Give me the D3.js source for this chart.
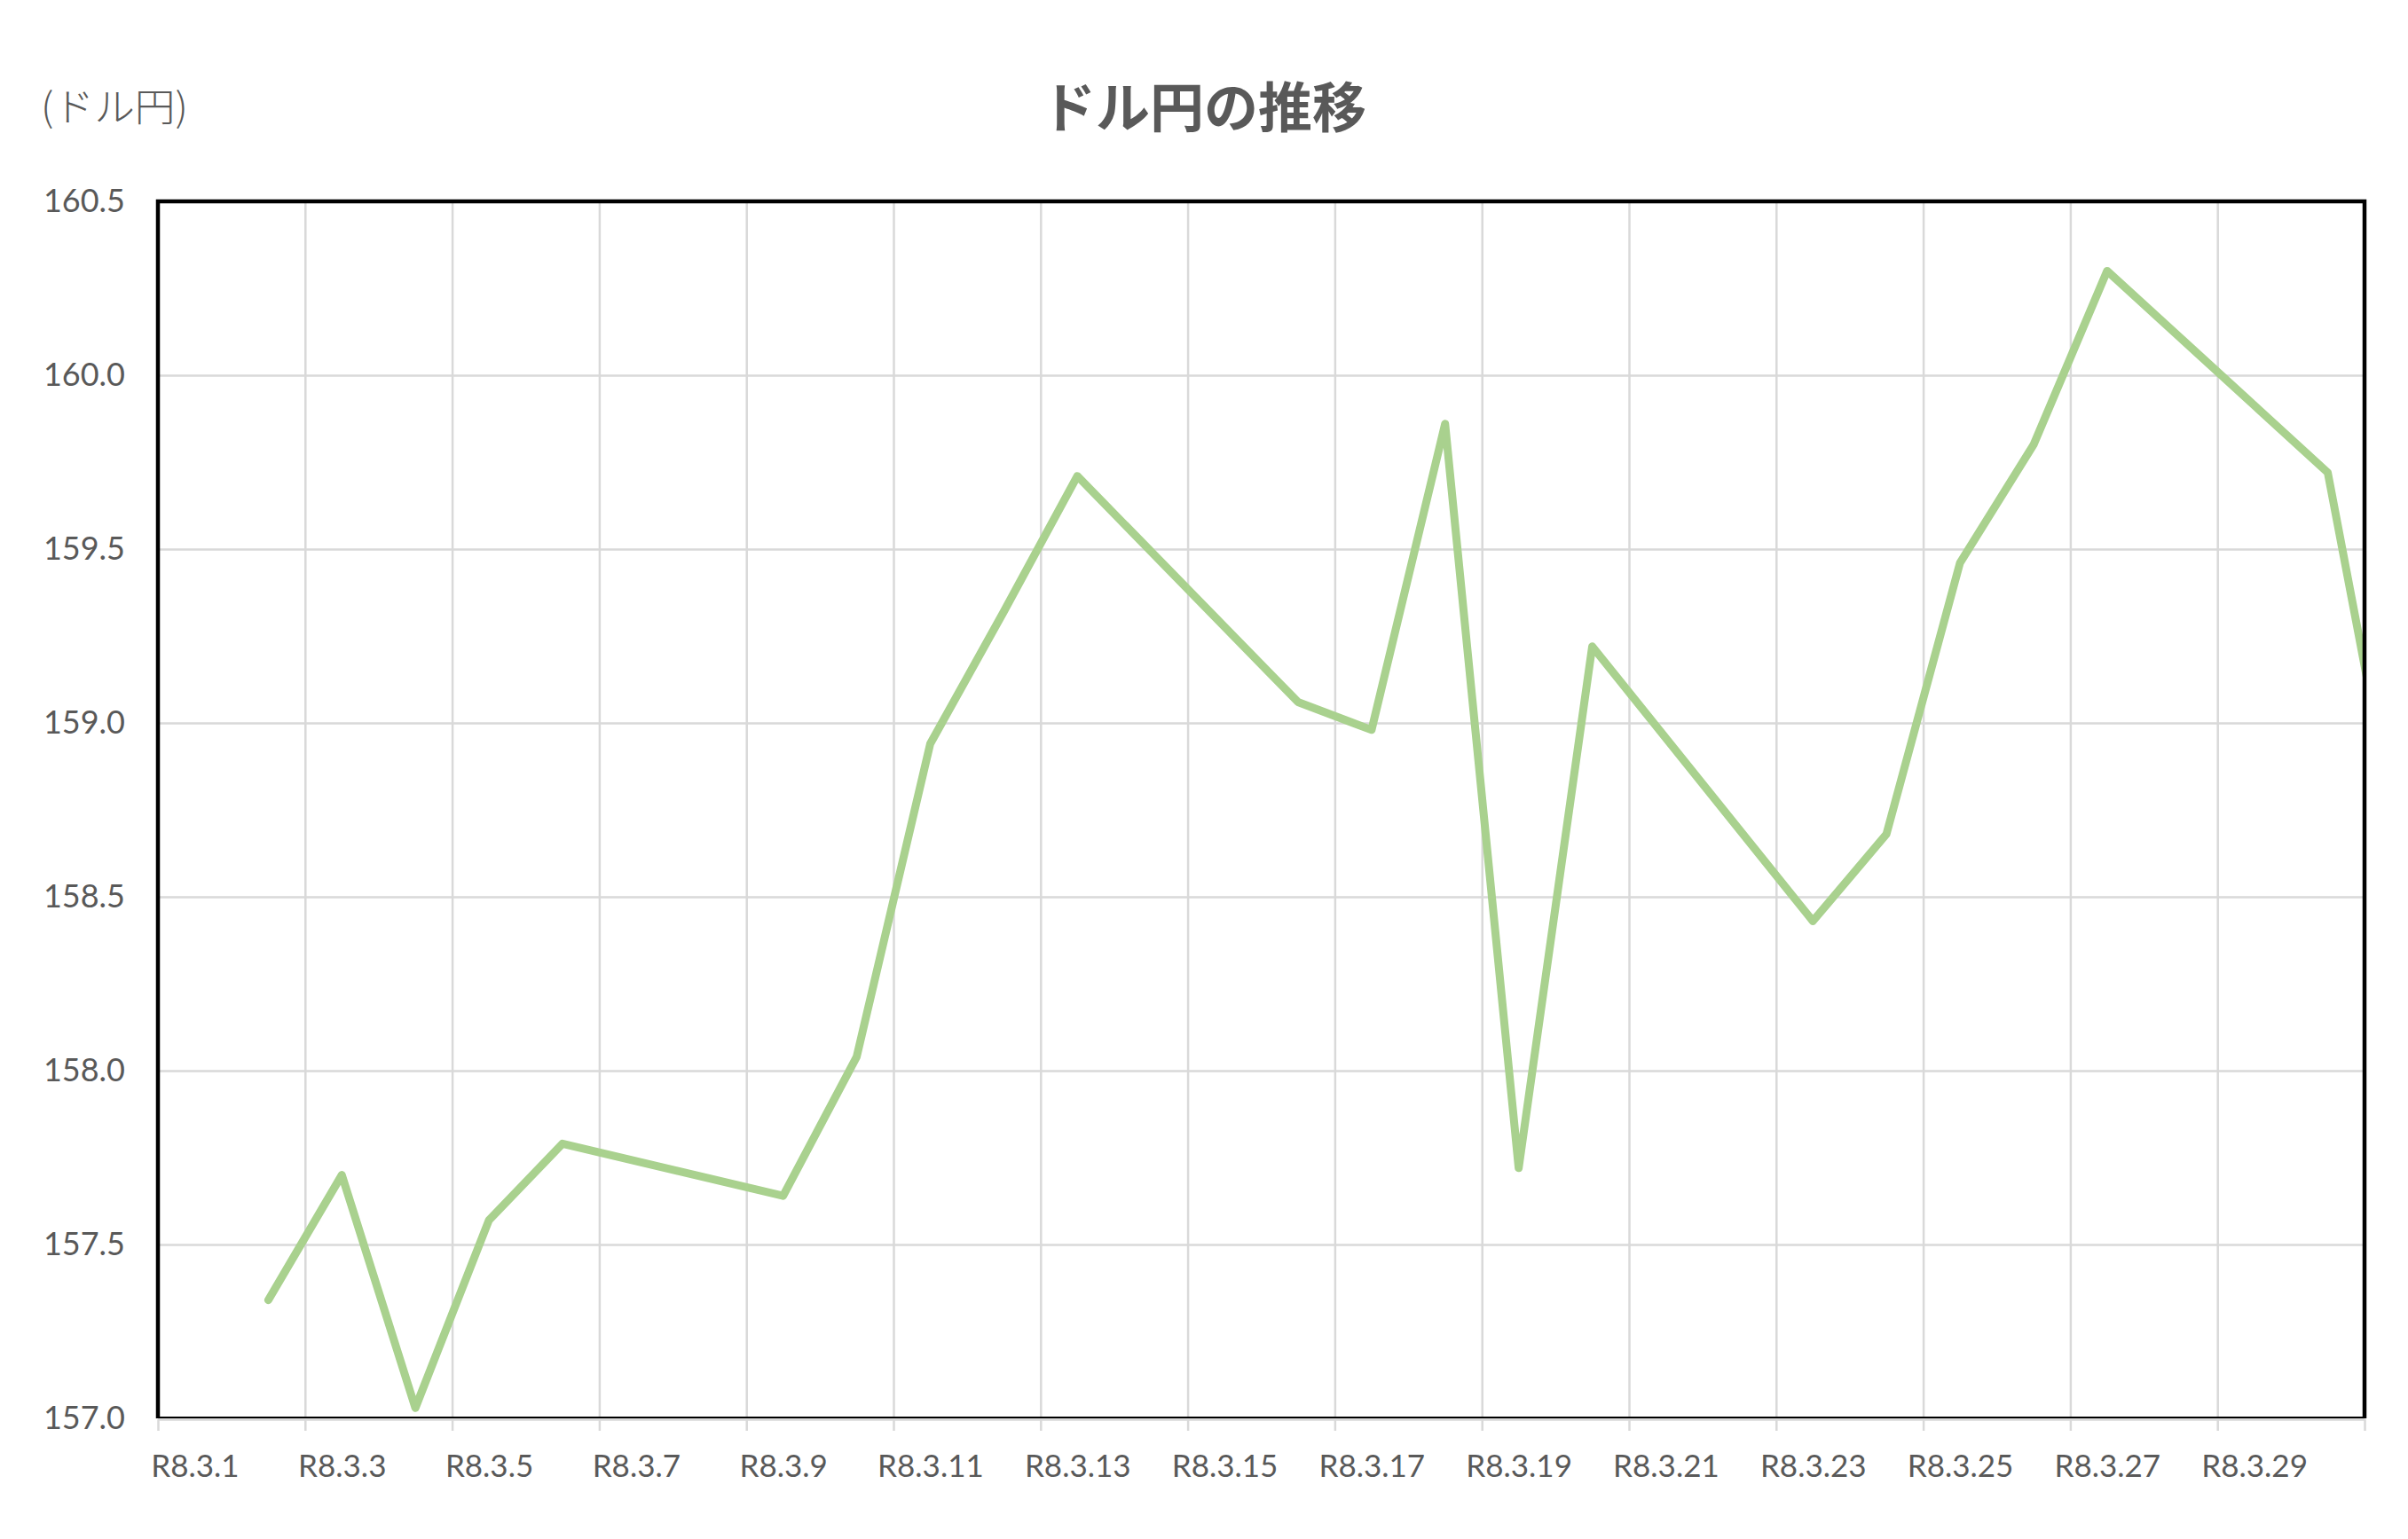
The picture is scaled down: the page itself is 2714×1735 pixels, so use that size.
<!DOCTYPE html>
<html>
<head>
<meta charset="utf-8">
<script src="https://cdn.jsdelivr.net/npm/d3@7"></script>
<style>
  html, body { margin: 0; padding: 0; background: #ffffff; }
  svg { display: block; }
</style>
</head>
<body>
<svg id="chart"></svg>
<script>
// ==============================
// DATA
// ==============================

// trading days in March, R8 (2026)
const days = [2, 3, 4, 5, 6, 9, 10, 11, 12, 13, 16, 17, 18, 19, 20, 23, 24, 25, 26, 27, 30, 31];
const rates = [157.34, 157.70, 157.03, 157.57, 157.79, 157.64, 158.04, 158.94, 159.32, 159.71,
               159.06, 158.98, 159.86, 157.72, 159.22, 158.43, 158.68, 159.46, 159.80, 160.30,
               159.72, 158.61];

const yTicks = [157.0, 157.5, 158.0, 158.5, 159.0, 159.5, 160.0, 160.5];
const xLabelDays = [1, 3, 5, 7, 9, 11, 13, 15, 17, 19, 21, 23, 25, 27, 29];
const xLabels = ["R8.3.1", "R8.3.3", "R8.3.5", "R8.3.7", "R8.3.9", "R8.3.11", "R8.3.13", "R8.3.15",
                 "R8.3.17", "R8.3.19", "R8.3.21", "R8.3.23", "R8.3.25", "R8.3.27", "R8.3.29"];

const titleText = "ドル円の推移";
const unitText = "(ドル円)";

// ==============================
// LAYOUT
// ==============================

const width = 2714;
const height = 1735;
const plot = { left: 178, right: 2665, top: 227, bottom: 1599 };

const textColor = "#595959";
const gridColor = "#d9d9d9";
const lineColor = "#a9d18e";
const numFont = "Lato, 'Noto Sans CJK JP', sans-serif";
const jpFont = "'Noto Sans CJK JP', sans-serif";

const svg = d3.select("#chart")
  .attr("width", width)
  .attr("height", height);

svg.append("rect")
  .attr("width", width)
  .attr("height", height)
  .attr("fill", "#ffffff");

const dayDate = d => new Date(2026, 2, d);
const midDay = d => new Date(2026, 2, d, 12);

// date axis, points sit between tick marks
const x = d3.scaleTime()
  .domain([dayDate(1), dayDate(31)])
  .range([plot.left, plot.right]);

const y = d3.scaleLinear()
  .domain([157.0, 160.5])
  .range([plot.bottom, plot.top]);

const tickDates = d3.timeDay.every(2).range(dayDate(1), new Date(2026, 2, 31, 1));

// ==============================
// GRID
// ==============================

svg.append("g")
  .attr("transform", `translate(0,${plot.bottom})`)
  .call(d3.axisBottom(x)
    .tickValues(tickDates)
    .tickSize(-(plot.bottom - plot.top))
    .tickFormat(""))
  .call(g => g.select(".domain").remove())
  .call(g => g.selectAll("line")
    .attr("stroke", gridColor)
    .attr("stroke-width", 2.5));

svg.append("g")
  .attr("transform", `translate(${plot.left},0)`)
  .call(d3.axisLeft(y)
    .tickValues(yTicks)
    .tickSize(-(plot.right - plot.left))
    .tickFormat(""))
  .call(g => g.select(".domain").remove())
  .call(g => g.selectAll("line")
    .attr("stroke", gridColor)
    .attr("stroke-width", 2.5));

// ==============================
// LINE
// ==============================

svg.append("clipPath")
  .attr("id", "plot-clip")
  .append("rect")
  .attr("x", plot.left)
  .attr("y", plot.top - 10)
  .attr("width", plot.right - plot.left)
  .attr("height", plot.bottom - plot.top + 10);

const series = days.map((d, i) => ({ date: midDay(d), value: rates[i] }));

const line = d3.line()
  .x(d => x(d.date))
  .y(d => y(d.value));

svg.append("path")
  .datum(series)
  .attr("clip-path", "url(#plot-clip)")
  .attr("d", line)
  .attr("fill", "none")
  .attr("stroke", lineColor)
  .attr("stroke-width", 9)
  .attr("stroke-linejoin", "round")
  .attr("stroke-linecap", "round");

// ==============================
// AXES
// ==============================

// gray category axis with tick marks
svg.append("g")
  .attr("transform", `translate(0,${plot.bottom + 1})`)
  .call(d3.axisBottom(x)
    .tickValues(tickDates)
    .tickSize(13)
    .tickSizeOuter(0)
    .tickFormat(""))
  .call(g => g.select(".domain")
    .attr("stroke", gridColor)
    .attr("stroke-width", 2.5))
  .call(g => g.selectAll(".tick line")
    .attr("stroke", gridColor)
    .attr("stroke-width", 2.5));

// x labels centered in their day slot
svg.append("g")
  .attr("transform", `translate(0,${plot.bottom})`)
  .call(d3.axisBottom(x)
    .tickValues(xLabelDays.map(midDay))
    .tickSize(0)
    .tickPadding(66)
    .tickFormat((d, i) => xLabels[i]))
  .call(g => g.select(".domain").remove())
  .call(g => g.selectAll("text")
    .attr("fill", textColor)
    .attr("font-family", numFont)
    .attr("font-size", 35)
    .attr("dy", 0));

// y labels
svg.append("g")
  .attr("transform", `translate(${plot.left},0)`)
  .call(d3.axisLeft(y)
    .tickValues(yTicks)
    .tickSize(0)
    .tickPadding(37)
    .tickFormat(d3.format(".1f")))
  .call(g => g.select(".domain").remove())
  .call(g => g.selectAll("text")
    .attr("fill", textColor)
    .attr("font-family", numFont)
    .attr("font-size", 36));

// plot border
svg.append("path")
  .attr("d", `M${plot.left},${plot.bottom} V${plot.top} H${plot.right} V${plot.bottom}`)
  .attr("fill", "none")
  .attr("stroke", "#000000")
  .attr("stroke-width", 4.5);

svg.append("line")
  .attr("x1", plot.left)
  .attr("x2", plot.right)
  .attr("y1", plot.bottom - 1)
  .attr("y2", plot.bottom - 1)
  .attr("stroke", "#000000")
  .attr("stroke-width", 1.8);

// ==============================
// TEXTS
// ==============================

svg.append("text")
  .attr("x", width / 2)
  .attr("y", 144)
  .attr("text-anchor", "middle")
  .attr("fill", textColor)
  .attr("font-family", jpFont)
  .attr("font-weight", 700)
  .attr("font-size", 61)
  .text(titleText);

svg.append("text")
  .attr("x", 46)
  .attr("y", 137)
  .attr("fill", textColor)
  .attr("font-family", jpFont)
  .attr("font-weight", 300)
  .attr("font-size", 44)
  .attr("textLength", 166)
  .attr("lengthAdjust", "spacingAndGlyphs")
  .text(unitText);
</script>
</body>
</html>
